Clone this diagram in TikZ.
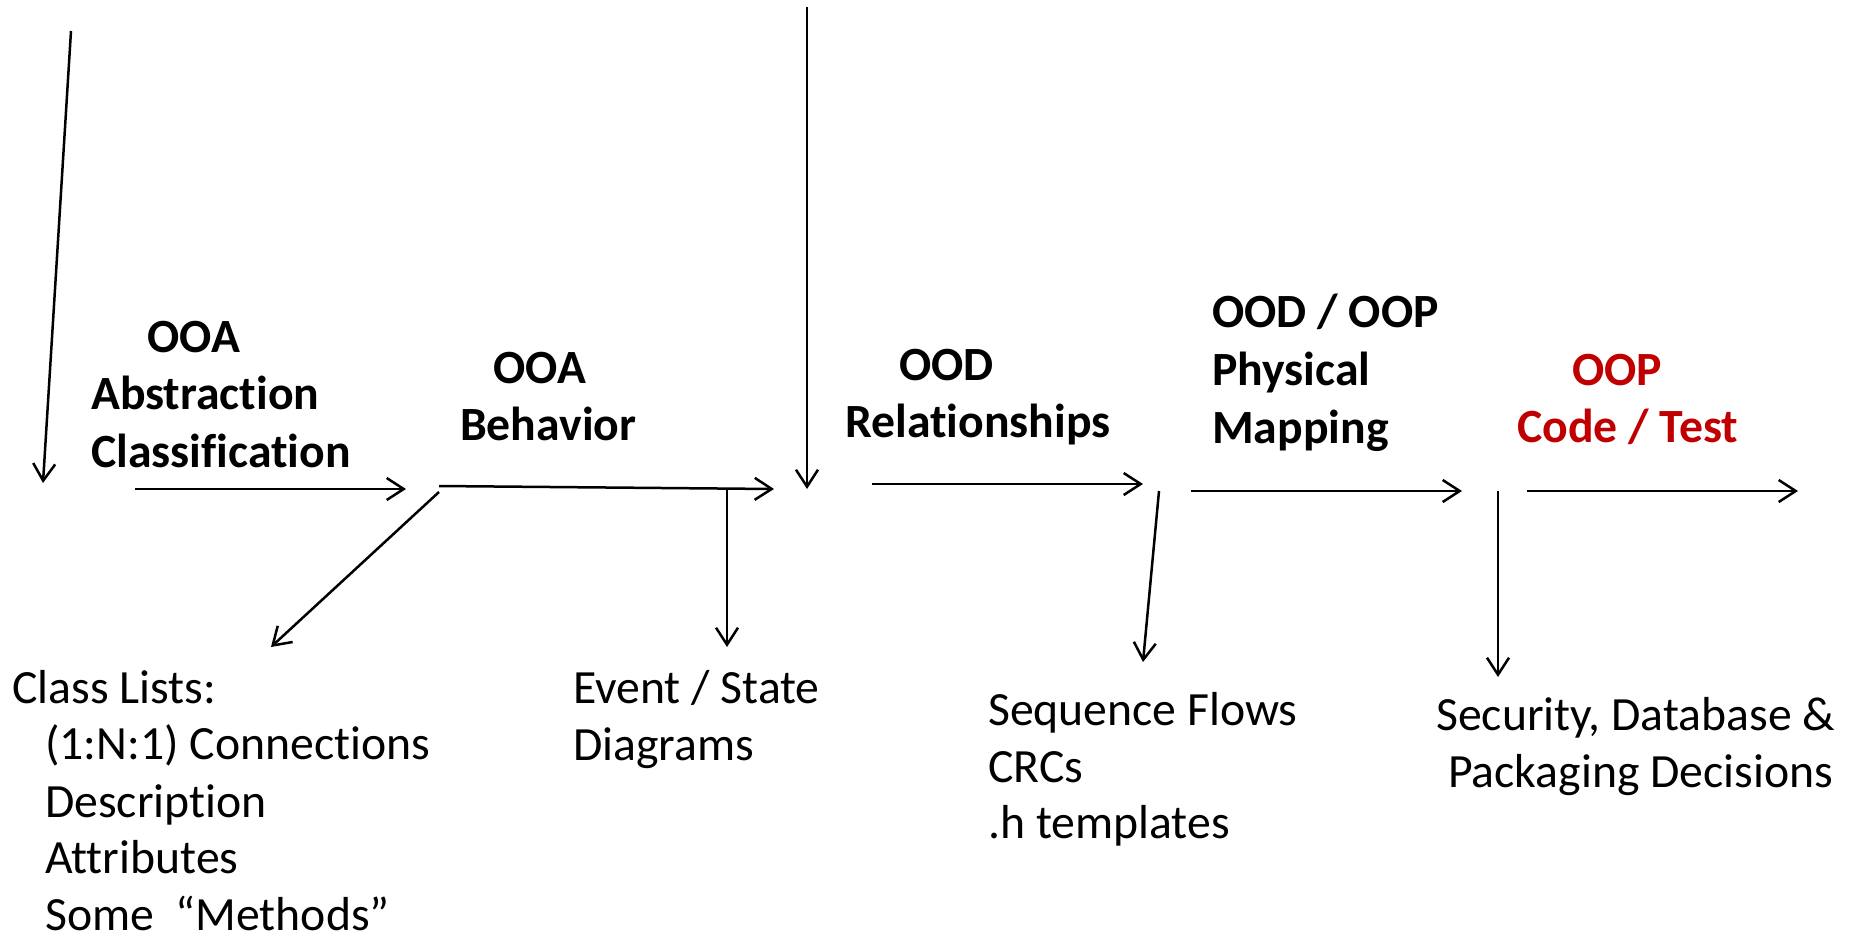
\documentclass[tikz,border=0pt]{standalone}
\usepackage{fontspec}
\setmainfont{Carlito}[Ligatures=NoCommon]
\usetikzlibrary{arrows.meta}
\definecolor{oopred}{HTML}{C00000}
\tikzset{
  flow/.style={line width=2.5pt, -{Straight Barb[length=17pt,width=22pt,line width=2.5pt]}},
  lbl/.style={anchor=base west, inner sep=0pt, font=\fontsize{47.7}{58}\selectfont\bfseries},
  txt/.style={anchor=base west, inner sep=0pt, font=\fontsize{47.7}{58}\selectfont},
}
\begin{document}
\begin{tikzpicture}[x=1pt,y=-1pt]
\useasboundingbox (0,0) rectangle (1849,937);
% coordinates
\coordinate (a1s) at (71,31);   \coordinate (a1e) at (43,483);
\coordinate (h1s) at (135,489); \coordinate (h1e) at (406,489);
\coordinate (d1s) at (439,492); \coordinate (d1e) at (271,647);
\coordinate (h2s) at (439,486); \coordinate (h2e) at (774,489);
\coordinate (v2s) at (727,490); \coordinate (v2e) at (727,647);
\coordinate (vts) at (807,7);   \coordinate (vte) at (807,489);
\coordinate (h3s) at (872,484); \coordinate (h3e) at (1143,484);
\coordinate (d3s) at (1159,491);\coordinate (d3e) at (1143,662);
\coordinate (h4s) at (1191,491);\coordinate (h4e) at (1462,491);
\coordinate (v4s) at (1498,491);\coordinate (v4e) at (1498,677);
\coordinate (h5s) at (1527,491);\coordinate (h5e) at (1798,491);
% arrows
\draw[flow] (a1s) -- (a1e);
\draw[flow] (h1s) -- (h1e);
\draw[flow] (d1s) -- (d1e);
\draw[flow] (h2s) -- (h2e);
\draw[flow] (v2s) -- (v2e);
\draw[flow] (vts) -- (vte);
\draw[flow] (h3s) -- (h3e);
\draw[flow] (d3s) -- (d3e);
\draw[flow] (h4s) -- (h4e);
\draw[flow] (v4s) -- (v4e);
\draw[flow] (h5s) -- (h5e);
% bold stage labels
\node[lbl] (a1) at (147,352) {OOA};
\node[lbl] (a2) at (91,409) {Abstraction};
\node[lbl] (a3) at (91,467) {Classification};
\node[lbl] (b1) at (493,383) {OOA};
\node[lbl] (b2) at (460,440) {Behavior};
\node[lbl] (c1) at (899,380) {OOD};
\node[lbl] (c2) at (845,437) {Relationships};
\node[lbl] (e1) at (1212,327) {OOD / OOP};
\node[lbl] (e2) at (1212,385) {Physical};
\node[lbl] (e3) at (1212,443) {Mapping};
\node[lbl, text=oopred] (f1) at (1572,385) {OOP};
\node[lbl, text=oopred] (f2) at (1517,442) {Code / Test};
% regular notes
\node[txt] (g1) at (12,703) {Class Lists:};
\node[txt] (g2) at (45,759) {(1:N:1) Connections};
\node[txt] (g3) at (45,817) {Description};
\node[txt] (g4) at (45,873) {Attributes};
\node[txt, text depth=0pt] (g5) at (45,930) {Some\ \ “Methods”};
\node[txt] (k1) at (573,703) {Event / State};
\node[txt] (k2) at (573,760) {Diagrams};
\node[txt] (m1) at (988,725) {Sequence Flows};
\node[txt] (m2) at (988,782) {CRCs};
\node[txt] (m3) at (988,838) {.h templates};
\node[txt] (n1) at (1436,730) {Security, Database \&};
\node[txt] (n2) at (1448,787) {Packaging Decisions};
\end{tikzpicture}
\end{document}
